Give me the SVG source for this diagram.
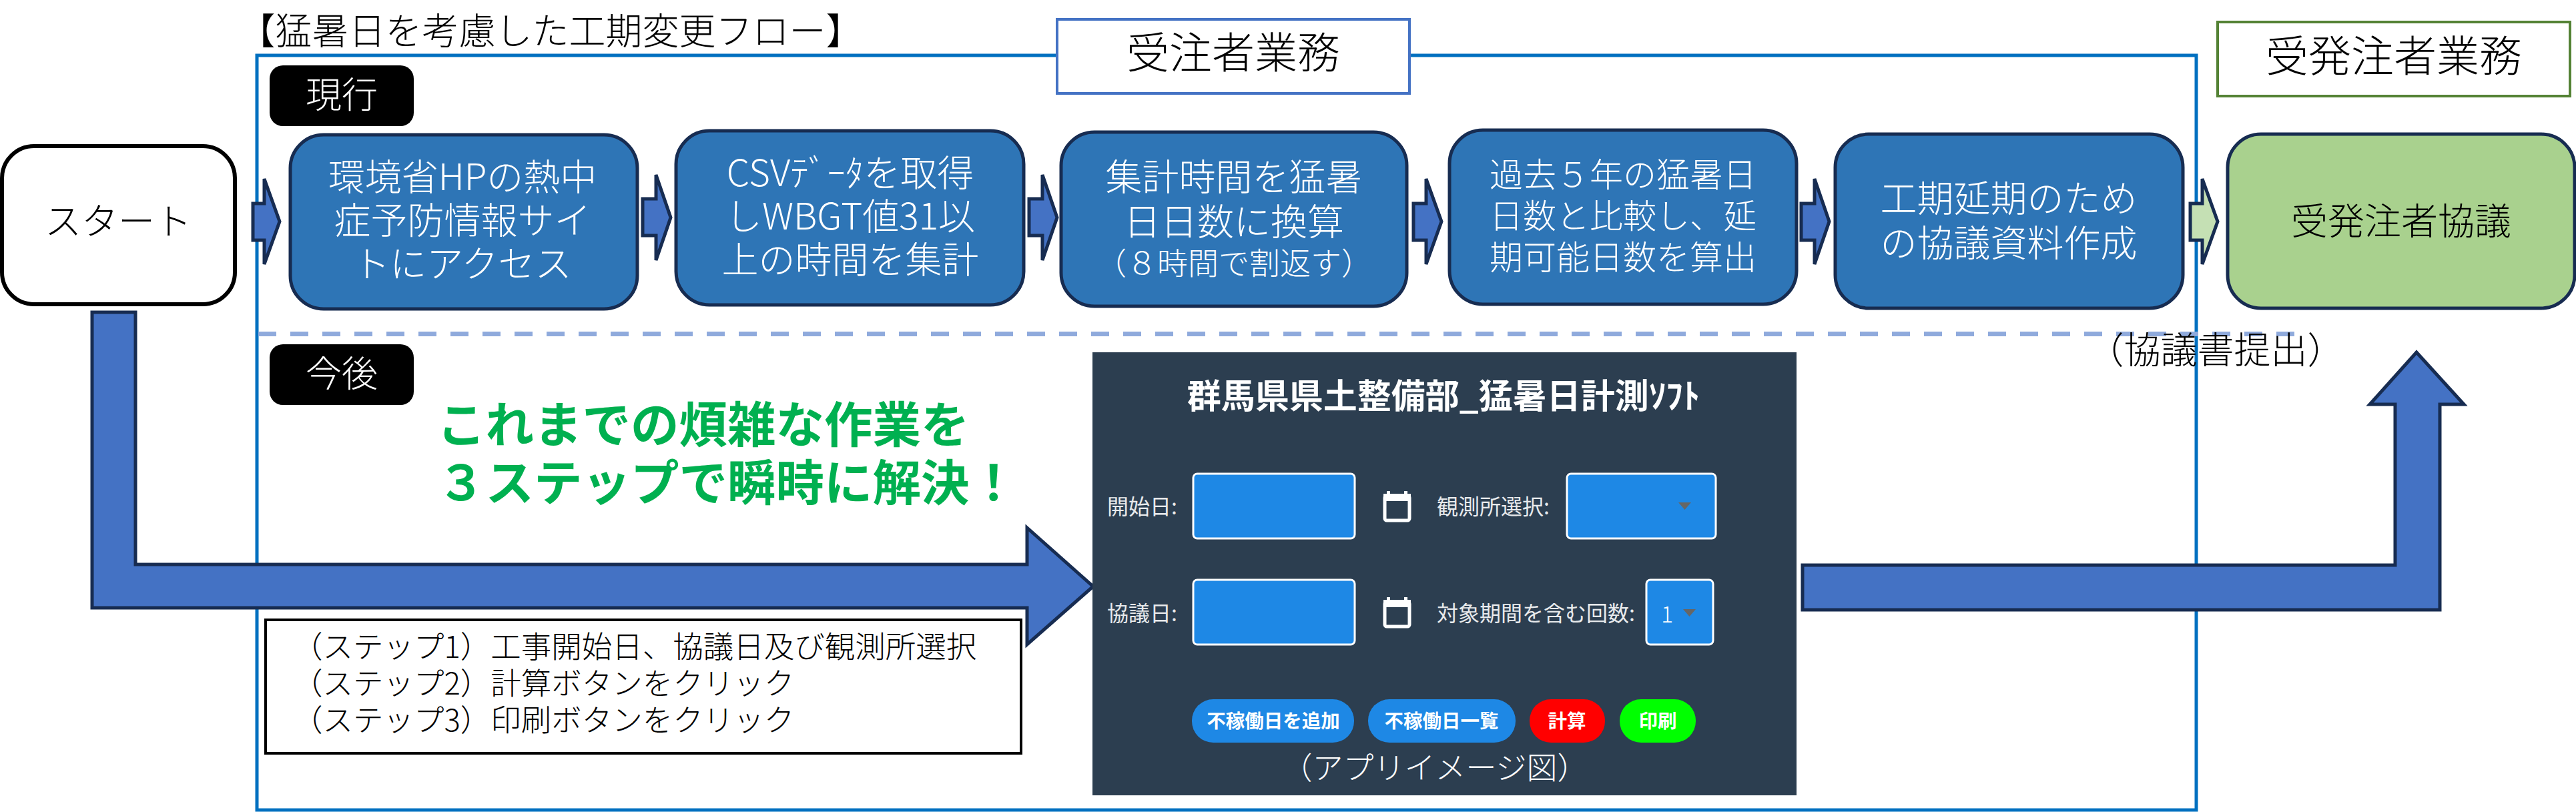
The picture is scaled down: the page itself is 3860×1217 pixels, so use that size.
<svg xmlns="http://www.w3.org/2000/svg" width="3860" height="1217" viewBox="0 0 3860 1217">
<style>
text{font-family:"Noto Sans CJK JP","Noto Sans",sans-serif;text-anchor:middle;font-weight:300}
.box{stroke:#172C51;stroke-width:5}
.blue{fill:#2E75B6}
.w{fill:#fff}.k{fill:#000}
.t52{font-size:55px}
.arrow{fill:#4472C4;stroke:#172C51;stroke-width:5;stroke-linejoin:miter}
.tag{fill:#000}
.field{fill:#1E88E5;stroke:#fff;stroke-width:3}
.btn{fill:#1E88E5}
.lab{font-size:32px;fill:#E8EAEC;text-anchor:start;font-weight:400}
.bt{font-size:28.500px;font-weight:700;fill:#fff}
.tri{fill:#666}
.cal{fill:none;stroke:#fff;stroke-width:5}
.st{font-size:45.500px;text-anchor:start;fill:#000}
.green{font-size:72.500px;font-weight:700;fill:#00B050;text-anchor:start}
</style>
<rect id="frame" x="385" y="83" width="2906" height="1131" fill="none" stroke="#0070C0" stroke-width="5"/>
<g id="connectors">
<line x1="387" y1="500.500" x2="3446" y2="500.500" stroke="#8FAADC" stroke-width="7" stroke-dasharray="27 21"/>
<path class="arrow" d="M379 305H396V268L419 332L396 396V360H379Z"/>
<path class="arrow" d="M963 298H983V262L1005 326L983 390V353H963Z"/>
<path class="arrow" d="M1542 298H1562V262L1584 326L1562 390V353H1542Z"/>
<path class="arrow" d="M2118 305H2137V268L2160 332L2137 396V360H2118Z"/>
<path class="arrow" d="M2699 305H2719V268L2741 332L2719 396V360H2699Z"/>
<path class="arrow" style="fill:#C5E0B4" d="M3282 305H3300V268L3323 332L3300 396V360H3282Z"/>
<path class="arrow" d="M138 468H203V846H1539V791L1638 879L1539 966V911H138Z"/>
<path class="arrow" d="M2701 847H3589V606H3551L3621 528L3692 606H3656V914H2701Z"/>
</g>
<text id="title" x="825" y="66" font-size="55" class="k">【猛暑日を考慮した工期変更フロー】</text>
<g id="label-contractor"><rect x="1584" y="29" width="528" height="111" fill="#fff" stroke="#4472C4" stroke-width="4"/><text x="1848" y="102" font-size="64">受注者業務</text></g>
<g id="label-both"><rect x="3323" y="33" width="528" height="111" fill="#fff" stroke="#548235" stroke-width="4"/><text x="3587" y="107" font-size="64">受発注者業務</text></g>
<g id="tag-current"><rect class="tag" x="404" y="98" width="216" height="91" rx="20"/><text x="512" y="162" font-size="54" class="w">現行</text></g>
<g id="tag-future"><rect class="tag" x="404" y="516" width="216" height="91" rx="20"/><text x="512" y="580" font-size="54" class="w">今後</text></g>
<g id="start"><rect x="3" y="219" width="349" height="237" rx="48" fill="#fff" stroke="#000" stroke-width="6"/><text x="177" y="351" font-size="55">スタート</text></g>
<g id="step1"><rect class="box blue" x="435" y="202" width="520" height="261" rx="50"/>
<text class="w t52" x="693" y="285">環境省HPの熱中</text><text class="w t52" x="693" y="350">症予防情報サイ</text><text class="w t52" x="693" y="415">トにアクセス</text></g>
<g id="step2"><rect class="box blue" x="1013" y="196" width="521" height="261" rx="50"/>
<text class="w t52" x="1274" y="279">CSVﾃﾞｰﾀを取得</text><text class="w t52" x="1274" y="344">しWBGT値31以</text><text class="w t52" x="1274" y="409">上の時間を集計</text></g>
<g id="step3"><rect class="box blue" x="1590" y="198" width="518" height="261" rx="50"/>
<text class="w t52" x="1849" y="285">集計時間を猛暑</text><text class="w t52" x="1849" y="352">日日数に換算</text><text class="w" x="1849" y="411" font-size="46">（８時間で割返す）</text></g>
<g id="step4"><rect class="box blue" x="2172" y="195" width="520" height="261" rx="50"/>
<text class="w" font-size="50" x="2432" y="280">過去５年の猛暑日</text><text class="w" font-size="50" x="2432" y="342">日数と比較し、延</text><text class="w" font-size="50" x="2432" y="404">期可能日数を算出</text></g>
<g id="step5"><rect class="box blue" x="2750" y="201" width="521" height="261" rx="50"/>
<text class="w t52" x="3010" y="317">工期延期のため</text><text class="w t52" x="3010" y="384">の協議資料作成</text></g>
<g id="step6"><rect class="box" fill="#A9D18E" x="3338" y="201" width="520" height="261" rx="50"/>
<text x="3598" y="351" font-size="55">受発注者協議</text></g>
<text id="submit" x="3320" y="544" font-size="55">（協議書提出）</text>
<g id="catch"><text class="green" x="655" y="663">これまでの煩雑な作業を</text><text class="green" x="655" y="750">３ステップで瞬時に解決！</text></g>
<g id="steps"><rect x="398" y="929" width="1132" height="200" fill="#fff" stroke="#000" stroke-width="4"/>
<text class="st" x="438" y="986">（ステップ1）工事開始日、協議日及び観測所選択</text>
<text class="st" x="438" y="1041">（ステップ2）計算ボタンをクリック</text>
<text class="st" x="438" y="1096">（ステップ3）印刷ボタンをクリック</text></g>
<g id="app"><rect x="1637" y="528" width="1055" height="664" fill="#2C3E50"/>
<text x="2163" y="612" font-size="51" class="w" style="font-weight:700">群馬県県土整備部_猛暑日計測ｿﾌﾄ</text>
<text class="lab" x="1659" y="771">開始日:</text><text class="lab" x="1659" y="931">協議日:</text>
<text class="lab" x="2153" y="771">観測所選択:</text><text class="lab" x="2153" y="931">対象期間を含む回数:</text>
<rect class="field" x="1788" y="710" width="242" height="97" rx="6"/><rect class="field" x="1788" y="869" width="242" height="97" rx="6"/>
<rect class="field" x="2348" y="710" width="223" height="97" rx="6"/><rect class="field" x="2467" y="869" width="100" height="97" rx="6"/>
<text x="2498" y="933" font-size="34" fill="#fff">1</text>
<path class="tri" d="M2515 753H2534L2524.500 764ZM2522 913H2541L2531.500 924Z"/>
<g id="cal1"><rect class="cal" x="2075" y="743" width="37" height="37" rx="3"/><path d="M2073 740h41v11h-41zM2078 736h5v6h-5zM2104 736h5v6h-5z" fill="#fff"/></g>
<g id="cal2"><rect class="cal" x="2075" y="902" width="37" height="37" rx="3"/><path d="M2073 899h41v11h-41zM2078 895h5v6h-5zM2104 895h5v6h-5z" fill="#fff"/></g>
<rect class="btn" x="1786" y="1048" width="243" height="65" rx="32"/><text class="bt" x="1908" y="1091">不稼働日を追加</text>
<rect class="btn" x="2050" y="1048" width="221" height="65" rx="32"/><text class="bt" x="2160" y="1091">不稼働日一覧</text>
<rect fill="#f00" x="2292" y="1048" width="113" height="65" rx="32"/><text class="bt" x="2348" y="1091">計算</text>
<rect fill="#0f0" x="2427" y="1048" width="114" height="65" rx="32"/><text class="bt" x="2484" y="1091">印刷</text>
<text x="2150" y="1167" font-size="46" class="w">（アプリイメージ図）</text></g>
</svg>
